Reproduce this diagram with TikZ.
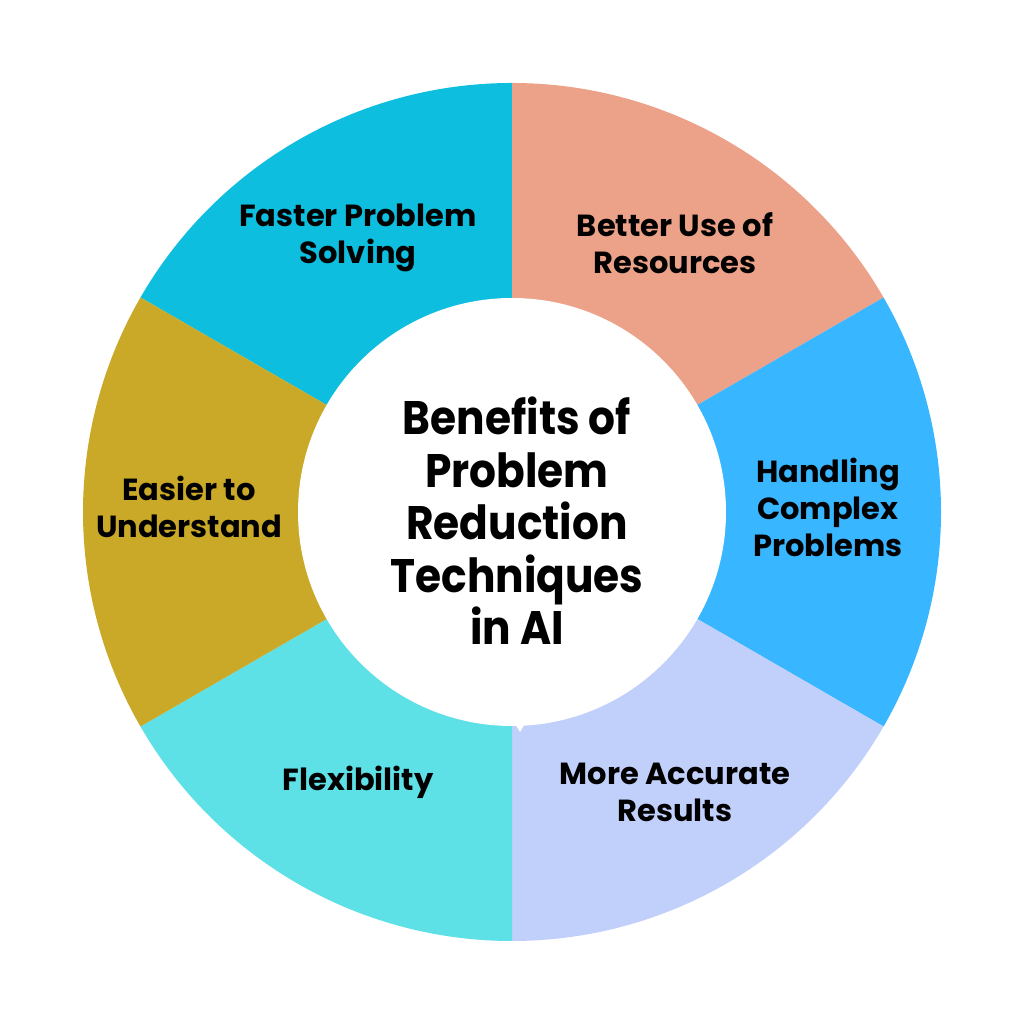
\documentclass[tikz,border=0pt]{standalone}
\usepackage{fontspec}
\setmainfont{Poppins}
\definecolor{cFaster}{HTML}{0EBEDE}
\definecolor{cBetter}{HTML}{ECA189}
\definecolor{cHandling}{HTML}{38B6FF}
\definecolor{cAccurate}{HTML}{C1CFFB}
\definecolor{cFlex}{HTML}{5DE0E6}
\definecolor{cEasier}{HTML}{C9A927}
\tikzset{
  lbl/.style={align=center, text=black, font=\bfseries\fontsize{30.5}{37}\selectfont, inner sep=0pt},
  ttl/.style={align=center, text=black, font=\bfseries\fontsize{47}{52.5}\selectfont, inner sep=0pt, transform shape, xscale=0.9}
}
\begin{document}
\begin{tikzpicture}[x=1pt,y=1pt]
\useasboundingbox (0,0) rectangle (1024,1024);
\fill[white] (0,0) rectangle (1024,1024);
\begin{scope}[shift={(512,512)}]
  \foreach \a/\b/\c in {90/150/cFaster, 30/90/cBetter, -30/30/cHandling, -90/-30/cAccurate, -150/-90/cFlex, 150/210/cEasier}{
    \fill[\c] (0,0) -- (\a:429) arc[start angle=\a, end angle=\b, radius=429] -- cycle;
  }
  \fill[white] (0,0) circle[radius=214];
  \fill[white] (2,-210) -- (14,-210) -- (8,-220) -- cycle;
\end{scope}
\node[lbl] (faster) at (358,{1024-238}) {Faster Problem\\Solving};
\node[lbl] (better) at (675,{1024-243}) {Better Use of\\Resources};
\node[lbl] (handling) at (828,{1024-507}) {Handling\\Complex\\Problems};
\node[lbl] (accurate) at (675,{1024-792}) {More Accurate\\Results};
\node[lbl] (flex) at (358,{1024-782}) {Flexibility};
\node[lbl] (easier) at (189,{1024-507}) {Easier to\\Understand};
\node[ttl] (title) at (517,{1024-521}) {Benefits of\\Problem\\Reduction\\Techniques\\in AI};
\end{tikzpicture}
\end{document}
